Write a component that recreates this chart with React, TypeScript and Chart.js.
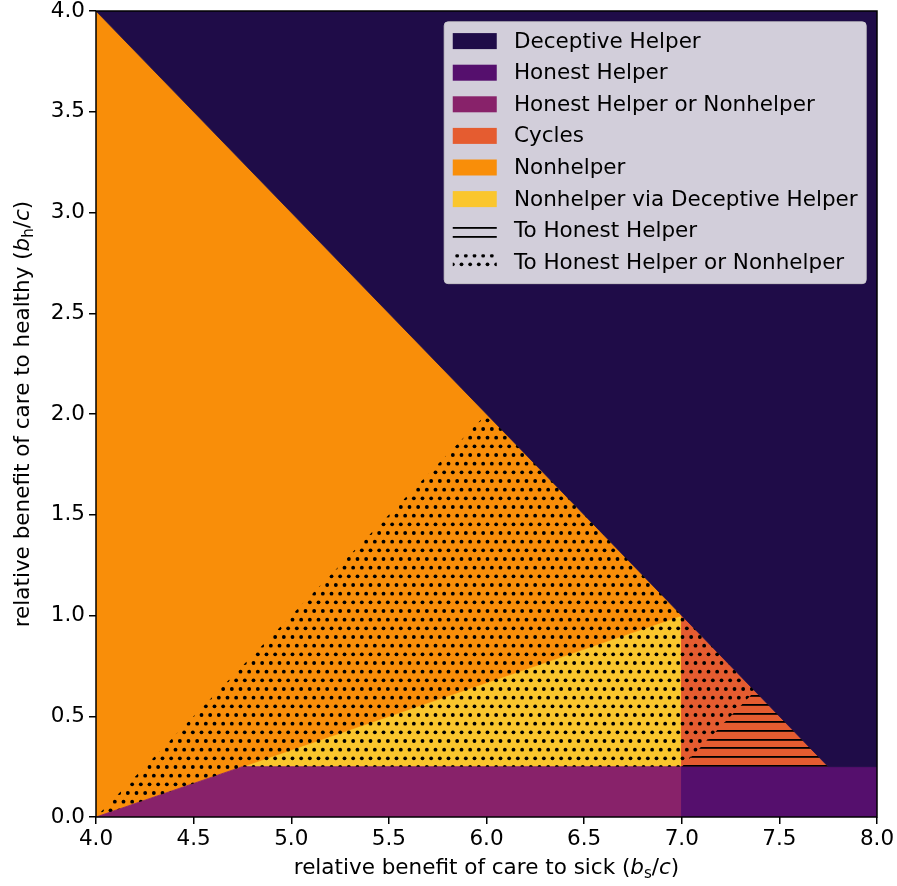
import React, { useEffect, useRef } from 'react';
import { Chart, registerables } from 'chart.js';

Chart.register(...registerables);

const FONT = "'DejaVu Sans', sans-serif";
const FONT_SIZE = 21.5;

// ---- data ----
const regionLabels = [
  'Deceptive Helper',
  'Honest Helper',
  'Honest Helper or Nonhelper',
  'Cycles',
  'Nonhelper',
  'Nonhelper via Deceptive Helper',
];
const regionColors = ['#1f0c48', '#550f6d', '#88226a', '#e55c30', '#f98e09', '#fac62d'];

const deceptiveHelperX = [4, 8, 8, 7.75, 4];
const deceptiveHelperY = [4, 4, 0.25, 0.25, 4];
const honestHelperX = [7, 8, 8, 7, 7];
const honestHelperY = [0, 0, 0.25, 0.25, 0];
const honestOrNonhelperX = [4, 7, 7, 4.75, 4];
const honestOrNonhelperY = [0, 0, 0.25, 0.25, 0];
const cyclesX = [7, 7.75, 7, 7];
const cyclesY = [0.25, 0.25, 1, 0.25];
const nonhelperX = [4, 4, 7, 4.75, 4];
const nonhelperY = [0, 4, 1, 0.25, 0];
const viaDeceptiveX = [4.75, 7, 7, 4.75];
const viaDeceptiveY = [0.25, 1, 0.25, 0.25];

const hatchLabels = ['To Honest Helper', 'To Honest Helper or Nonhelper'];
const toHonestX = [7, 7.375, 7.75, 7];
const toHonestY = [0.25, 0.625, 0.25, 0.25];
const toHonestOrNonX = [4, 6, 7.375, 7, 4.75, 4];
const toHonestOrNonY = [0, 2, 0.625, 0.25, 0.25, 0];

const xTicks = [4.0, 4.5, 5.0, 5.5, 6.0, 6.5, 7.0, 7.5, 8.0];
const yTicks = [0.0, 0.5, 1.0, 1.5, 2.0, 2.5, 3.0, 3.5, 4.0];

type Part = { t: string; it?: boolean; sub?: boolean };
const xTitle: Part[] = [
  { t: 'relative benefit of care to sick (' },
  { t: 'b', it: true },
  { t: 's', sub: true },
  { t: '/' },
  { t: 'c', it: true },
  { t: ')' },
];
const yTitle: Part[] = [
  { t: 'relative benefit of care to healthy (' },
  { t: 'b', it: true },
  { t: 'h', sub: true },
  { t: '/' },
  { t: 'c', it: true },
  { t: ')' },
];

// ---- helpers ----
function makeDotPattern(ctx: CanvasRenderingContext2D): CanvasPattern {
  const s = 52;
  const c = document.createElement('canvas');
  c.width = s;
  c.height = s;
  const g = c.getContext('2d')!;
  g.fillStyle = '#000';
  const step = s / 6;
  for (let r = 0; r < 6; r++) {
    for (let col = -1; col <= 6; col++) {
      const x = col * step + (r % 2 ? step / 2 : 0) + step / 4;
      const y = r * step + step / 2;
      g.beginPath();
      g.arc(x, y, 1.9, 0, Math.PI * 2);
      g.fill();
    }
  }
  return ctx.createPattern(c, 'repeat')!;
}

function makeLinePattern(ctx: CanvasRenderingContext2D): CanvasPattern {
  const s = 26;
  const c = document.createElement('canvas');
  c.width = s;
  c.height = s;
  const g = c.getContext('2d')!;
  g.fillStyle = '#000';
  const step = s / 3;
  for (let k = 0; k < 3; k++) {
    g.fillRect(0, Math.round(k * step) + 2, s, 1.8);
  }
  return ctx.createPattern(c, 'repeat')!;
}

function drawRich(ctx: CanvasRenderingContext2D, parts: Part[], cx: number, cy: number, size: number) {
  const fontOf = (p: Part) => `${p.it ? 'italic ' : ''}${p.sub ? size * 0.7 : size}px ${FONT}`;
  let total = 0;
  const widths = parts.map((p) => {
    ctx.font = fontOf(p);
    const w = ctx.measureText(p.t).width;
    total += w;
    return w;
  });
  let x = cx - total / 2;
  ctx.textAlign = 'left';
  ctx.textBaseline = 'alphabetic';
  ctx.fillStyle = '#000';
  const base = cy + size * 0.36;
  parts.forEach((p, i) => {
    ctx.font = fontOf(p);
    ctx.fillText(p.t, x, base + (p.sub ? size * 0.2 : 0));
    x += widths[i];
  });
}

const framePlugin = {
  id: 'frameAndTitles',
  afterDatasetsDraw(chart: any) {
    const { ctx, chartArea: a } = chart;
    ctx.save();
    ctx.strokeStyle = '#000';
    ctx.lineWidth = 1.5;
    ctx.strokeRect(a.left, a.top, a.right - a.left, a.bottom - a.top);
    ctx.restore();
  },
  afterDraw(chart: any) {
    const { ctx, chartArea: a } = chart;
    ctx.save();
    drawRich(ctx, xTitle, (a.left + a.right) / 2, a.bottom + 49, FONT_SIZE);
    ctx.translate(21, (a.top + a.bottom) / 2);
    ctx.rotate(-Math.PI / 2);
    drawRich(ctx, yTitle, 0, 0, FONT_SIZE);
    ctx.restore();
  },
};

const legendPlugin = {
  id: 'innerLegend',
  afterDraw(chart: any) {
    const { ctx, chartArea: a } = chart;
    const ds = chart.data.datasets;
    const fs = FONT_SIZE;
    const pad = 0.4 * fs;
    const handleW = 44;
    const handleH = 16;
    const textPad = 0.8 * fs;
    const rowStep = 31.6;
    ctx.save();
    ctx.font = `${fs}px ${FONT}`;
    let maxW = 0;
    ds.forEach((d: any) => {
      maxW = Math.max(maxW, ctx.measureText(d.label).width);
    });
    const right = a.right - 0.5 * fs;
    const top = a.top + 0.5 * fs;
    const width = pad + handleW + textPad + maxW + pad;
    const left = right - width;
    const height = pad + fs / 2 + (ds.length - 1) * rowStep + fs / 2 + pad + 2;
    ctx.beginPath();
    ctx.roundRect(left, top, width, height, 4);
    ctx.fillStyle = 'rgba(255,255,255,0.8)';
    ctx.fill();
    ctx.strokeStyle = 'rgba(204,204,204,0.8)';
    ctx.lineWidth = 1;
    ctx.stroke();
    ds.forEach((d: any, i: number) => {
      const cy = top + pad + fs / 2 + i * rowStep;
      ctx.fillStyle = d.backgroundColor;
      ctx.fillRect(left + pad, cy - handleH / 2, handleW, handleH);
      ctx.fillStyle = '#000';
      ctx.font = `${fs}px ${FONT}`;
      ctx.textAlign = 'left';
      ctx.textBaseline = 'middle';
      ctx.fillText(d.label, left + pad + handleW + textPad, cy + 1);
    });
    ctx.restore();
  },
};

export default function App() {
  const ref = useRef<HTMLCanvasElement>(null);
  useEffect(() => {
    document.body.style.margin = '0';
    const canvas = ref.current!;
    const ctx = canvas.getContext('2d')!;
    const dots = makeDotPattern(ctx);
    const lines = makeLinePattern(ctx);
    const pts = (xs: number[], ys: number[]) => xs.map((x, i) => ({ x, y: ys[i] }));
    const regions = [
      pts(deceptiveHelperX, deceptiveHelperY),
      pts(honestHelperX, honestHelperY),
      pts(honestOrNonhelperX, honestOrNonhelperY),
      pts(cyclesX, cyclesY),
      pts(nonhelperX, nonhelperY),
      pts(viaDeceptiveX, viaDeceptiveY),
    ];
    const datasets: any[] = regions.map((data, i) => ({
      label: regionLabels[i],
      data,
      backgroundColor: regionColors[i],
      borderColor: regionColors[i],
      borderWidth: 0.8,
      fill: 'shape',
      pointRadius: 0,
      pointHoverRadius: 0,
      tension: 0,
      order: 1,
    }));
    datasets.push(
      {
        label: hatchLabels[0],
        data: pts(toHonestX, toHonestY),
        backgroundColor: lines,
        borderColor: 'transparent',
        borderWidth: 0,
        fill: 'shape',
        pointRadius: 0,
        pointHoverRadius: 0,
        order: 0,
      },
      {
        label: hatchLabels[1],
        data: pts(toHonestOrNonX, toHonestOrNonY),
        backgroundColor: dots,
        borderColor: 'transparent',
        borderWidth: 0,
        fill: 'shape',
        pointRadius: 0,
        pointHoverRadius: 0,
        order: 0,
      }
    );

    const tickFont = { family: FONT, size: FONT_SIZE };
    const chart = new Chart(canvas, {
      type: 'line',
      data: { datasets },
      options: {
        animation: false,
        responsive: false,
        events: [],
        layout: { padding: { top: 11, right: 20, left: 0, bottom: 0 } },
        plugins: { legend: { display: false }, tooltip: { enabled: false } },
        scales: {
          x: {
            type: 'linear',
            min: 4,
            max: 8,
            afterBuildTicks: (s: any) => {
              s.ticks = xTicks.map((v) => ({ value: v }));
            },
            afterFit: (s: any) => {
              s.height = 69;
              s.paddingLeft = 0;
              s.paddingRight = 0;
            },
            ticks: {
              callback: (v: any) => Number(v).toFixed(1),
              font: tickFont,
              color: '#000',
              padding: 3,
              maxRotation: 0,
              autoSkip: false,
            },
            grid: { display: true, drawOnChartArea: false, drawTicks: true, tickLength: 7, color: '#000', lineWidth: 1.5 },
            border: { display: false },
          },
          y: {
            type: 'linear',
            min: 0,
            max: 4,
            afterBuildTicks: (s: any) => {
              s.ticks = yTicks.map((v) => ({ value: v }));
            },
            afterFit: (s: any) => {
              s.width = 96;
              s.paddingTop = 0;
              s.paddingBottom = 0;
            },
            ticks: {
              callback: (v: any) => Number(v).toFixed(1),
              font: tickFont,
              color: '#000',
              padding: 4,
              autoSkip: false,
            },
            grid: { display: true, drawOnChartArea: false, drawTicks: true, tickLength: 7, color: '#000', lineWidth: 1.5 },
            border: { display: false },
          },
        },
      },
      plugins: [framePlugin, legendPlugin],
    });
    return () => chart.destroy();
  }, []);
  return (
    <div style={{ width: 897, height: 886 }}>
      <canvas ref={ref} width={897} height={886} style={{ width: 897, height: 886, display: 'block' }} />
    </div>
  );
}
